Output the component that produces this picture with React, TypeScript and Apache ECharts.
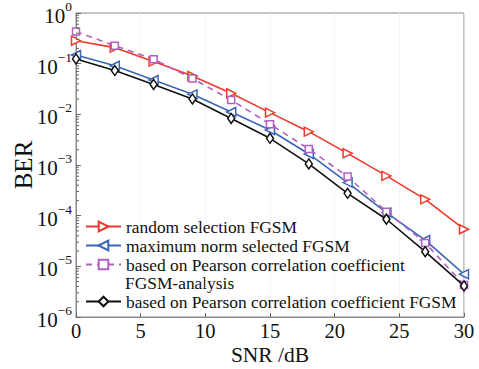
import React, { useEffect, useRef } from "react";
import * as echarts from "echarts";

const snr = [0, 3, 6, 9, 12, 15, 18, 21, 24, 27, 30];
const randomFGSM = [0.284, 0.207, 0.11, 0.057, 0.026, 0.0108, 0.00455, 0.0017, 6.1e-4, 2.1e-4, 5.4e-5];
const maxNormFGSM = [0.148, 0.091, 0.0476, 0.0248, 0.0111, 0.0049, 0.00165, 4.5e-4, 1.15e-4, 3.3e-5, 7.0e-6];
const pearsonAnalysis = [0.43, 0.226, 0.122, 0.051, 0.0192, 0.0064, 0.00207, 5.9e-4, 1.2e-4, 2.9e-5, 4.3e-6];
const pearsonFGSM = [0.124, 0.073, 0.039, 0.0201, 0.0083, 0.00336, 0.00105, 2.76e-4, 8.5e-5, 1.95e-5, 4.1e-6];

const seriesNames = [
  "random selection FGSM",
  "maximum norm selected FGSM",
  "based on Pearson correlation coefficient",
  "based on Pearson correlation coefficient FGSM",
];
const extraLegendLine = "FGSM-analysis";

const minorMultipliers = [2, 3, 4, 5, 6, 7, 8, 9];
const decades = [1e-6, 1e-5, 1e-4, 1e-3, 1e-2, 1e-1];

const FONT = "Liberation Serif";

const supers: Record<string, string> = { "0": "0", "-1": "−1", "-2": "−2", "-3": "−3", "-4": "−4", "-5": "−5", "-6": "−6" };

export default function App() {
  const ref = useRef<HTMLDivElement>(null);
  useEffect(() => {
    if (!ref.current) return;
    const chart = echarts.init(ref.current, null, { renderer: "svg" });
    const pair = (ys: number[]) => snr.map((x, i) => [x, ys[i]]);
    const minorTicks: number[][] = [];
    decades.forEach((d) => minorMultipliers.forEach((m) => minorTicks.push([0, d * m])));

    const red = "#f0382b";
    const blue = "#3b66b5";
    const purple = "#b35fc2";
    const black = "#111111";

    chart.setOption({
      animation: false,
      backgroundColor: "#fff",
      textStyle: { fontFamily: FONT },
      grid: {
        left: 76, right: 15, top: 13, bottom: 52,
        outerBoundsMode: "none",
        containLabel: false,
        show: true, borderColor: "#8a8a8a", borderWidth: 1, backgroundColor: "transparent",
      },
      xAxis: {
        type: "value",
        min: 0,
        max: 30,
        interval: 5,
        name: "SNR /dB",
        nameLocation: "middle",
        nameGap: 27,
        nameMoveOverlap: false,
        nameTextStyle: { fontFamily: FONT, fontSize: 21.5, color: "#111" },
        axisLine: { lineStyle: { color: "#8a8a8a" } },
        axisTick: { inside: true, length: 4, lineStyle: { color: "#666" } },
        axisLabel: { fontFamily: FONT, fontSize: 20.5, color: "#111", margin: 3 },
        splitLine: { show: true, lineStyle: { color: "#efefef", type: "dotted" } },
      },
      yAxis: {
        type: "log",
        logBase: 10,
        min: 1e-6,
        max: 1,
        name: "BER",
        nameLocation: "middle",
        nameRotate: 90,
        nameGap: 40,
        nameMoveOverlap: false,
        nameTextStyle: { fontFamily: FONT, fontSize: 25, color: "#111" },
        axisLine: { lineStyle: { color: "#8a8a8a" } },
        axisTick: { inside: true, length: 5, lineStyle: { color: "#666" } },
        splitLine: { show: false },
        axisLabel: {
          margin: 4,
          formatter: (v: number) => {
            const e = Math.round(Math.log10(v));
            return `{b|10}{s|${supers[String(e)] ?? String(e)}}`;
          },
          rich: {
            b: { fontFamily: FONT, fontSize: 21, color: "#111", verticalAlign: "bottom", lineHeight: 27 },
            s: { fontFamily: FONT, fontSize: 13.5, color: "#111", verticalAlign: "top", lineHeight: 27 },
          },
        },
      },
      legend: [
        {
          orient: "vertical",
          left: 85,
          top: 217,
          padding: 0,
          itemGap: 0,
          itemWidth: 35,
          itemHeight: 12,
          textStyle: { fontFamily: FONT, fontSize: 17.4, color: "#111", lineHeight: 19 },
          data: [seriesNames[0], seriesNames[1], seriesNames[2]],
        },
        {
          orient: "vertical",
          left: 85,
          top: 292,
          padding: 0,
          itemGap: 0,
          itemWidth: 35,
          itemHeight: 12,
          textStyle: { fontFamily: FONT, fontSize: 17.4, color: "#111", lineHeight: 19 },
          data: [seriesNames[3]],
        },
      ],
      graphic: [
        {
          type: "text",
          left: 125,
          top: 274,
          style: { text: extraLegendLine, fontFamily: FONT, fontSize: 17.4, fill: "#111" },
        },
      ],
      series: [
        {
          name: seriesNames[0],
          type: "line",
          data: pair(randomFGSM),
          symbol: "triangle",
          symbolRotate: -90,
          symbolSize: 9,
          lineStyle: { color: red, width: 1.6 },
          itemStyle: { color: "#fff", borderColor: red, borderWidth: 1.5 },
          z: 3,
        },
        {
          name: seriesNames[1],
          type: "line",
          data: pair(maxNormFGSM),
          symbol: "triangle",
          symbolRotate: 90,
          symbolSize: 9,
          lineStyle: { color: blue, width: 1.6 },
          itemStyle: { color: "#fff", borderColor: blue, borderWidth: 1.5 },
          z: 3,
        },
        {
          name: seriesNames[2],
          type: "line",
          data: pair(pearsonAnalysis),
          symbol: "rect",
          symbolSize: 7,
          lineStyle: { color: purple, width: 1.6, type: [6, 5] },
          itemStyle: { color: "#fff", borderColor: purple, borderWidth: 1.5 },
          z: 4,
        },
        {
          name: seriesNames[3],
          type: "line",
          data: pair(pearsonFGSM),
          symbol: "diamond",
          symbolSize: [7, 10],
          lineStyle: { color: black, width: 1.6 },
          itemStyle: { color: "#fff", borderColor: black, borderWidth: 1.5 },
          z: 5,
        },
        {
          type: "custom",
          silent: true,
          data: minorTicks,
          renderItem: (params: any, api: any) => {
            const p = api.coord([api.value(0), api.value(1)]);
            return {
              type: "line",
              shape: { x1: p[0], y1: p[1], x2: p[0] + 3, y2: p[1] },
              style: { stroke: "#666", lineWidth: 1 },
            };
          },
          z: 6,
        },
      ],
    });
    return () => chart.dispose();
  }, []);
  return <div ref={ref} style={{ width: 479, height: 369, position: "absolute", left: 0, top: 0 }} />;
}
